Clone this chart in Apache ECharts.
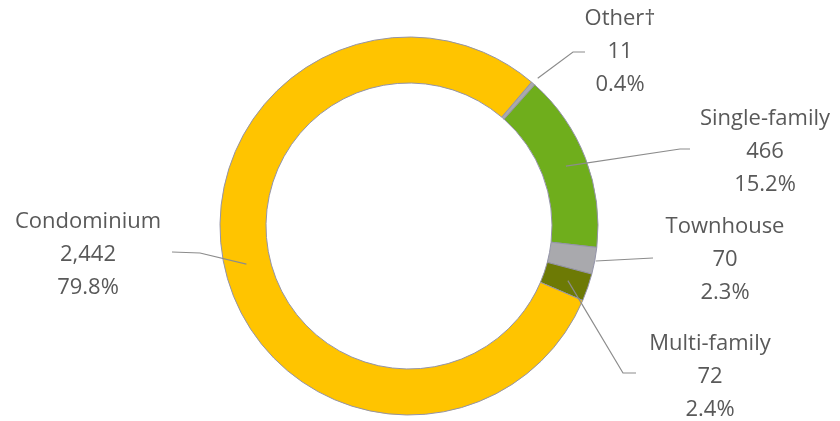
<!DOCTYPE html>
<html>
<head>
<meta charset="utf-8">
<script src="https://cdn.jsdelivr.net/npm/echarts@6/dist/echarts.min.js"></script>
<style>
  html, body { margin: 0; padding: 0; background: #ffffff; }
  #chart { width: 840px; height: 421px; }
</style>
</head>
<body>
<div id="chart"></div>
<script>
// Housing sales by property type
const categories = ['Other\u2020', 'Single-family', 'Townhouse', 'Multi-family', 'Condominium'];
const counts = [11, 466, 70, 72, 2442];
const sliceColors = ['#a9a9ad', '#6fae1c', '#a9a9ad', '#6d7a05', '#ffc400'];

// Label placement (label centre, elbow/end points of the leader line, anchor radius)
const labelCentres = [[620, 52], [765, 152], [725, 260], [710, 377], [88, 255]];
const leaderPoints = [
  [[573, 52], [585, 52]],
  [[680, 149], [690, 149]],
  [[653, 258], [653, 258]],
  [[623, 373], [636, 373]],
  [[200, 253], [172, 252]]
];
const anchorRadius = [196, 168, 190, 168, 167];

const CX = 409, CY = 226, R_IN = 143, R_OUT = 189;
const START_DEG = 40.4; // clockwise from 12 o'clock

const total = counts.reduce((a, b) => a + b, 0);
const fmtInt = v => String(v).replace(/\B(?=(\d{3})+(?!\d))/g, ',');

function midAngle(i) {
  let before = 0;
  for (let k = 0; k < i; k++) before += counts[k];
  const mid = before + counts[i] / 2;
  return (START_DEG + mid / total * 360) * Math.PI / 180;
}

const pieData = categories.map((name, i) => ({
  name: name,
  value: counts[i],
  itemStyle: { color: sliceColors[i] }
}));

const common = {
  type: 'pie',
  center: [CX, CY],
  radius: [R_IN, R_OUT],
  startAngle: 90 - START_DEG,
  clockwise: true,
  avoidLabelOverlap: false,
  emphasis: { disabled: true },
  silent: true
};

const chart = echarts.init(document.getElementById('chart'), null, { renderer: 'canvas' });

chart.setOption({
  backgroundColor: '#ffffff',
  animation: false,
  series: [
    // ring slices
    Object.assign({}, common, {
      z: 2,
      data: pieData,
      itemStyle: { borderColor: '#9494a8', borderWidth: 1 },
      label: { show: false },
      labelLine: { show: false }
    }),
    // transparent overlay carrying the data labels so leader lines sit above the ring
    Object.assign({}, common, {
      z: 3,
      data: pieData.map(d => ({ name: d.name, value: d.value })),
      itemStyle: { color: 'rgba(0,0,0,0)', borderWidth: 0 },
      label: {
        show: true,
        position: 'outside',
        formatter: p => p.name + '\n' + fmtInt(p.value) + '\n' + (p.value / total * 100).toFixed(1) + '%',
        fontFamily: 'Open Sans',
        fontSize: 22,
        lineHeight: 33,
        color: '#595959',
        align: 'center'
      },
      labelLine: {
        show: true,
        lineStyle: { color: '#8c8c8c', width: 1.2 }
      },
      labelLayout: function (params) {
        const i = params.dataIndex;
        const a = midAngle(i);
        const r = anchorRadius[i];
        const anchor = [CX + r * Math.sin(a), CY - r * Math.cos(a)];
        return {
          x: labelCentres[i][0],
          y: labelCentres[i][1],
          align: 'center',
          verticalAlign: 'middle',
          labelLinePoints: [anchor, leaderPoints[i][0], leaderPoints[i][1]]
        };
      }
    })
  ]
});
</script>
</body>
</html>
